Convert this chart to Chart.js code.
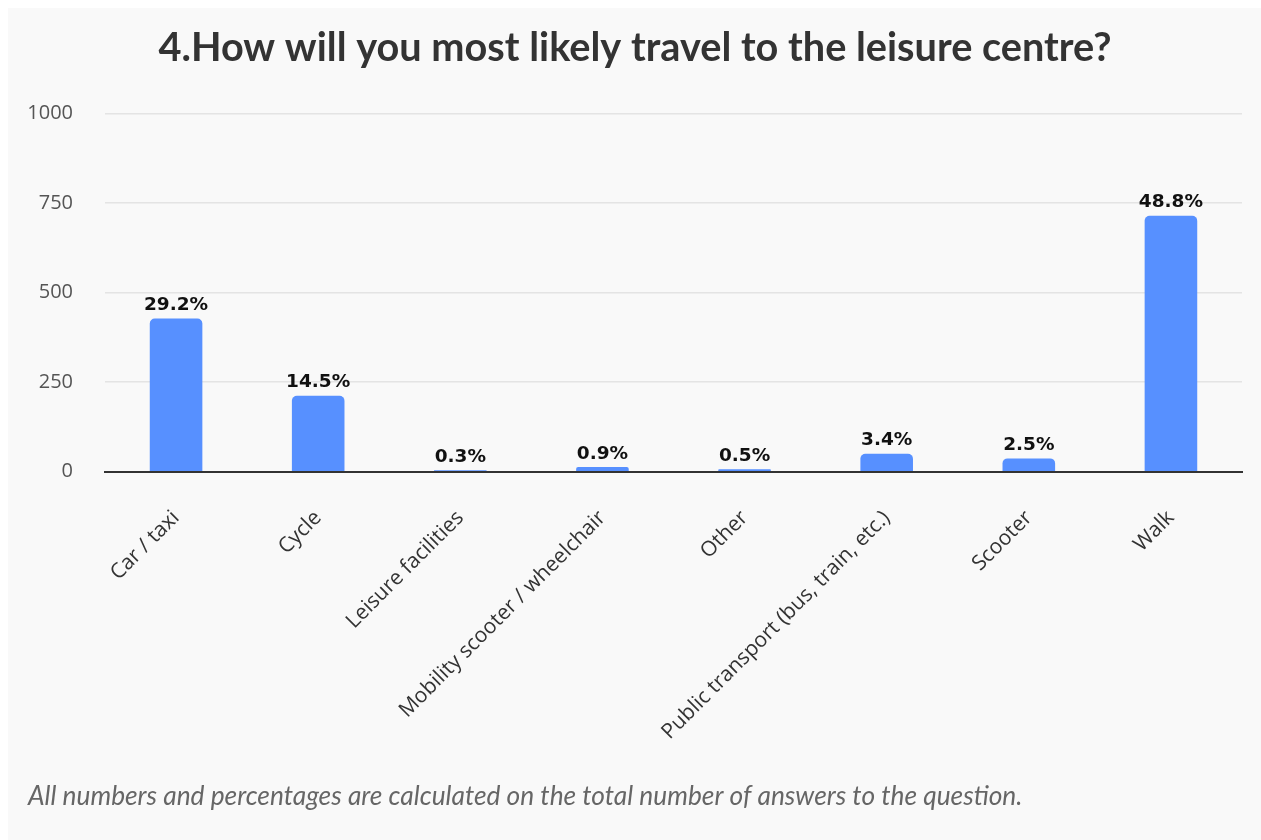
<!DOCTYPE html>
<html>
<head>
<meta charset="utf-8">
<script src="https://cdn.jsdelivr.net/npm/chart.js@4"></script>
<style>
  html, body { margin: 0; padding: 0; background: #fff; }
  #card { position: absolute; left: 8px; top: 8px; width: 1253px; height: 832px; background: #f9f9f9; }
</style>
</head>
<body>
<div id="card"><canvas id="travel_chart" width="1253" height="832"></canvas></div>
<script>
var labels = ['Car / taxi', 'Cycle', 'Leisure facilities', 'Mobility scooter / wheelchair',
  'Other', 'Public transport (bus, train, etc.)', 'Scooter', 'Walk'];
var counts = [428, 212, 4, 13, 7, 50, 37, 715];
var percents = ['29.2%', '14.5%', '0.3%', '0.9%', '0.5%', '3.4%', '2.5%', '48.8%'];
var yTicks = [0, 250, 500, 750, 1000];

// percentage text above each bar
var barLabels = {
  id: 'barLabels',
  afterDatasetsDraw: function(chart) {
    var c = chart.ctx;
    var meta = chart.getDatasetMeta(0);
    c.save();
    c.font = 'bold 18.5px "DejaVu Sans"';
    c.fillStyle = '#111';
    c.textAlign = 'center';
    c.textBaseline = 'bottom';
    meta.data.forEach(function(bar, i) {
      c.fillText(percents[i], bar.x, bar.y - 4);
    });
    c.restore();
  }
};

var ctx = document.getElementById('travel_chart');
new Chart(ctx, {
  type: 'bar',
  data: {
    labels: labels,
    datasets: [{
      data: counts,
      backgroundColor: '#5790ff',
      borderRadius: { topLeft: 5, topRight: 5 },
      borderSkipped: 'bottom',
      barPercentage: 0.37,
      categoryPercentage: 1
    }]
  },
  options: {
    responsive: false,
    animation: false,
    layout: { padding: { left: 20, right: 19 } },
    plugins: {
      legend: { display: false },
      tooltip: { enabled: false },
      title: {
        display: true,
        text: '4.How will you most likely travel to the leisure centre?',
        color: '#333',
        font: { family: 'Lato', weight: 'bold', size: 39.7, lineHeight: 1.2 },
        padding: { top: 16, bottom: 42 }
      },
      subtitle: {
        display: true,
        position: 'bottom',
        align: 'start',
        text: 'All numbers and percentages are calculated on the total number of answers to the question.',
        color: '#666',
        font: { family: 'Lato', style: 'italic', size: 26.3, lineHeight: 1.2 },
        padding: { top: 8.8, bottom: 28 }
      }
    },
    scales: {
      x: {
        grid: { display: false },
        border: { color: '#333', width: 2 },
        ticks: {
          color: '#333',
          font: { family: 'Open Sans', size: 21 },
          maxRotation: 45,
          minRotation: 45,
          padding: 26
        },
        afterFit: function(s) { s.height = 300; }
      },
      y: {
        min: 0,
        max: 1000,
        afterBuildTicks: function(s) { s.ticks = yTicks.map(function(v) { return { value: v }; }); },
        grid: { color: '#e4e4e4', lineWidth: 1.5, drawTicks: false },
        border: { display: false },
        ticks: {
          color: '#555',
          font: { family: 'Open Sans', size: 20 },
          padding: 32,
          callback: function(v) { return String(v); }
        },
        afterFit: function(s) { s.width = 77; }
      }
    }
  },
  plugins: [barLabels]
});
</script>
</body>
</html>
